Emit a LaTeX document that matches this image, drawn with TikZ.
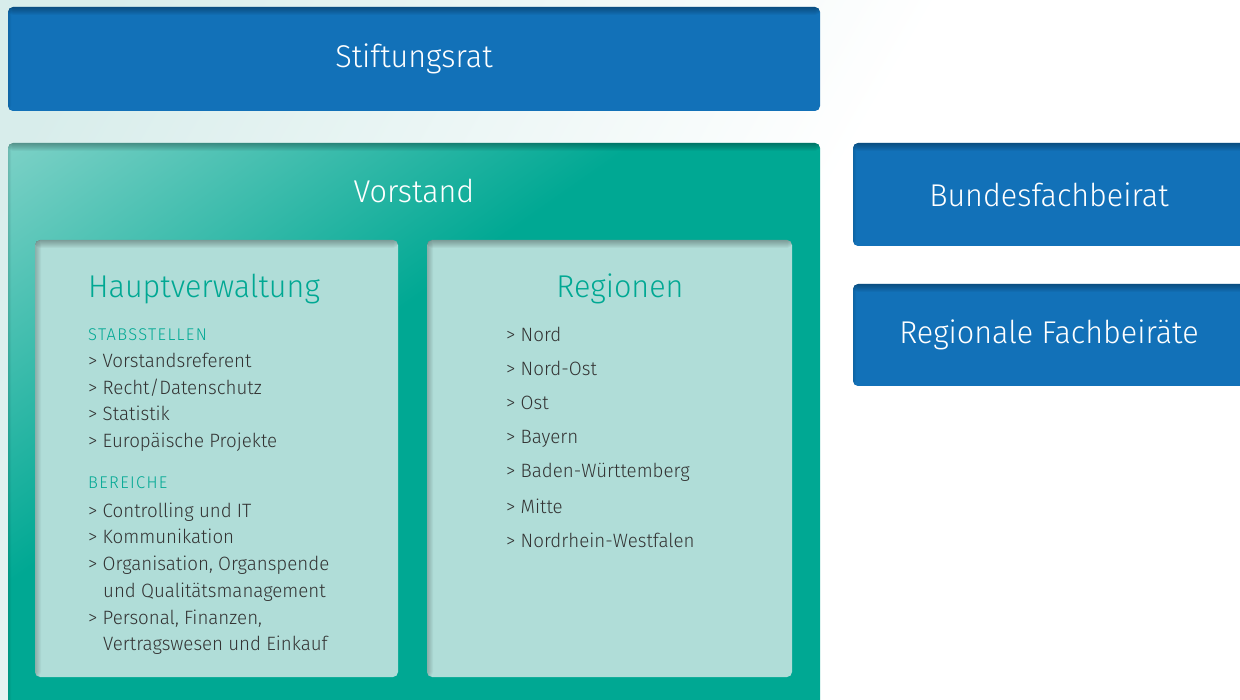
\documentclass[tikz,border=0pt]{standalone}
\usepackage{fontspec}
\setmainfont{Fira Sans Light}[FakeStretch=0.97]
\usepackage{tikz}
\usetikzlibrary{positioning, calc}

\definecolor{dsoBlue}{HTML}{1271B8}
\definecolor{dsoTeal}{HTML}{00A893}
\definecolor{dsoTealLight}{HTML}{82D3C9}
\definecolor{dsoPanel}{HTML}{B0DDD8}
\definecolor{dsoText}{HTML}{333333}
\definecolor{dsoBack}{HTML}{D8EDEB}

\pgfdeclarehorizontalshading{vorstandgrad}{100bp}{%
    color(0bp)=(dsoTealLight); color(14bp)=(dsoTealLight);
    color(28bp)=(dsoTeal!50!dsoTealLight); color(42bp)=(dsoTeal); color(100bp)=(dsoTeal)}
\pgfdeclarehorizontalshading{backgrad}{100bp}{%
    color(0bp)=(dsoBack); color(20bp)=(dsoBack); color(55bp)=(white); color(100bp)=(white)}

\tikzset{
    innershadow/.style={path picture={
        \foreach \s in {1,...,8}
            \fill[black, opacity=0.04]
                (path picture bounding box.north west) rectangle
                ([yshift=-\s pt]path picture bounding box.north east);
        \foreach \s in {1,...,#1}
            \fill[black, opacity=0.035]
                (path picture bounding box.north west) rectangle
                ([xshift=\s pt]path picture bounding box.south west);
    }},
    bluebox/.style={rounded corners=5pt, fill=dsoBlue, innershadow=3,
        text=white, font=\fontsize{31.5}{36}\selectfont},
    panelbox/.style={rounded corners=5pt, fill=dsoPanel, innershadow=6},
    paneltitle/.style={text=dsoTeal, font=\fontsize{31.5}{36}\selectfont},
    listhead/.style={anchor=base west, text=dsoTeal, inner sep=0pt,
        font=\fontsize{17}{18}\selectfont\addfontfeature{LetterSpace=8}},
    listitem/.style={anchor=base west, text=dsoText, font=\fontsize{19.3}{26.6}\selectfont,
        align=left, inner sep=0pt},
}

\begin{document}
\begin{tikzpicture}[x=1pt, y=-1pt]
    \useasboundingbox (0,0) rectangle (1240,700);
    \clip (0,0) rectangle (1240,700);

    % background
    \shade[shading=backgrad, shading angle=-30] (0,0) rectangle (1240,700);

    % top
    \node[bluebox, minimum width=812pt, minimum height=104pt] (stiftungsrat) at (414,59) {Stiftungsrat};

    % vorstand
    \path[rounded corners=5pt, shading=vorstandgrad, shading angle=-55, innershadow=3]
        (8,143) rectangle (820,720);
    \node[text=white, font=\fontsize{31.5}{36}\selectfont] (vorstand) at (414,191) {Vorstand};

    \node[panelbox, minimum width=363pt, minimum height=437pt] (hauptverwaltung) at (216.5,458.5) {};
    \node[panelbox, minimum width=365pt, minimum height=437pt] (regionen) at (609.5,458.5) {};

    % beiraete
    \node[bluebox, minimum width=392pt, minimum height=103pt] (bundesfachbeirat) at (1049,194.5) {Bundesfachbeirat};
    \node[bluebox, minimum width=392pt, minimum height=102pt] (regionalefachbeiraete) at (1049,335) {Regionale Fachbeiräte};

    % hauptverwaltung
    \node[paneltitle, anchor=west, inner sep=0pt] (hvtitle) at (88,289) {Hauptverwaltung};
    \node[listhead] (stabsstellen) at (88,341) {STABSSTELLEN};
    \foreach \y/\txt in {
        368/Vorstandsreferent,
        395/{Recht/Datenschutz},
        421/Statistik,
        448/Europäische Projekte}{
        \node[listitem] at (88,\y) {> \txt};
    }
    \node[listhead] (bereiche) at (88,489) {BEREICHE};
    \foreach \y/\txt in {
        517/Controlling und IT,
        543/Kommunikation,
        570/{Organisation, Organspende},
        624/{Personal, Finanzen,}}{
        \node[listitem] at (88,\y) {> \txt};
    }
    \node[listitem] at (103,597) {und Qualitätsmanagement};
    \node[listitem] at (103,650) {Vertragswesen und Einkauf};

    % regionen
    \node[paneltitle] (rgtitle) at (620,289) {Regionen};
    \foreach \y/\txt in {
        342/Nord,
        376/Nord-Ost,
        410/Ost,
        444/Bayern,
        478/Baden-Württemberg,
        513/Mitte,
        547/Nordrhein-Westfalen}{
        \node[listitem] at (506,\y) {> \txt};
    }
\end{tikzpicture}
\end{document}
